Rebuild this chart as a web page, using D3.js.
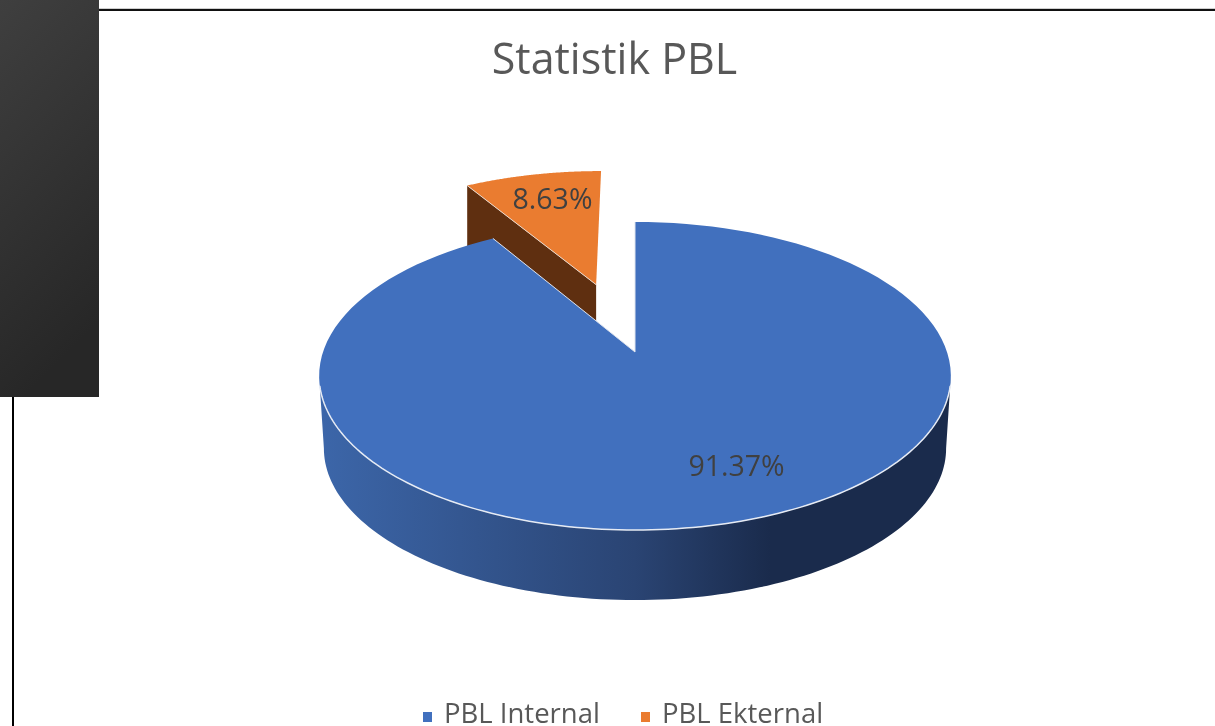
<!DOCTYPE html>
<html>
<head>
<meta charset="utf-8">
<script src="https://cdn.jsdelivr.net/npm/d3@7"></script>
<style>
  html, body { margin: 0; padding: 0; background: #fff; }
  text { font-family: "Open Sans", "Noto Sans", sans-serif; filter: url(#soft); }
</style>
</head>
<body>
<svg id="chart"></svg>
<script>
// data
const titleText = "Statistik PBL";
const categories = ["PBL Internal", "PBL Ekternal"];
const shares = [91.37, 8.63];
const shareLabels = ["91.37%", "8.63%"];
const sliceColors = ["#4170be", "#ea7c30"];
const sideColors = ["#2a4473", "#5f2f10"];

const width = 1215;
const height = 726;

const svg = d3.select("#chart")
  .attr("width", width)
  .attr("height", height)
  .style("display", "block");

const defs = svg.append("defs");

// the reference is an upscaled screenshot, text is a little soft
defs.append("filter")
  .attr("id", "soft")
  .append("feGaussianBlur")
  .attr("stdDeviation", 0.5);

// dark panel top left and the lines of the page behind the chart
const panelGrad = defs.append("linearGradient")
  .attr("id", "panelGrad")
  .attr("x1", 0).attr("y1", 0).attr("x2", 0.25).attr("y2", 1);
panelGrad.append("stop").attr("offset", "0%").attr("stop-color", "#3f3f3f");
panelGrad.append("stop").attr("offset", "100%").attr("stop-color", "#272727");

svg.append("rect").attr("x", 99).attr("y", 8).attr("width", 1116).attr("height", 1).attr("fill", "#cfcfcf");
svg.append("rect").attr("x", 99).attr("y", 9).attr("width", 1116).attr("height", 2).attr("fill", "#111");
svg.append("rect").attr("x", 12).attr("y", 397).attr("width", 2).attr("height", 329).attr("fill", "#000");
svg.append("rect").attr("x", 0).attr("y", 0).attr("width", 99).attr("height", 397).attr("fill", "url(#panelGrad)");

// title
svg.append("text")
  .attr("x", 614.5)
  .attr("y", 74)
  .attr("text-anchor", "middle")
  .attr("font-size", "43px")
  .attr("fill", "#595959")
  .text(titleText);

// pie angles, blue starts at 12 o'clock like the original
const pie = d3.pie().sort(null).value(d => d);
const arcs = pie(shares);

// the tilted disc: unit circle coordinates to screen, with a bit of perspective
const apexX = 635;
const apexY = 352;
const tilt = 0.1558;
const project = (u, v, scale = 1, dy = 0) => {
  const w = 1 + tilt * v;
  return [apexX + 312 * scale * u / w, apexY + dy - 150.3 * scale * v / w];
};
const rimPoint = (a, off = [0, 0], scale = 1, dy = 0) =>
  project(Math.sin(a) + off[0], Math.cos(a) + off[1], scale, dy);
const rimAngles = (a0, a1) => d3.range(0, 121).map(i => a0 + (a1 - a0) * i / 120);
const line = d3.line();

// pulled out slice offset
const explode = 0.5;
const midAngle = (arcs[1].startAngle + arcs[1].endAngle) / 2;
const offset = [explode * Math.sin(midAngle), explode * Math.cos(midAngle)];

const depthDy = 72.7;
const depthScale = 0.985;

// orange slice first, blue disc covers its foot
const cut = arcs[1];
const cutApex = project(offset[0], offset[1]);
const cutApexLow = [cutApex[0], cutApex[1] + 70];
const cutEdge = rimPoint(cut.startAngle, offset);

svg.append("path")
  .attr("d", line([cutEdge, cutApex, cutApexLow, [cutEdge[0], cutEdge[1] + 70]]) + "Z")
  .attr("fill", sideColors[1]);

svg.append("path")
  .attr("d", line([cutApex, ...rimAngles(cut.startAngle, cut.endAngle).map(a => rimPoint(a, offset))]) + "Z")
  .attr("fill", sliceColors[1]);

svg.append("path")
  .attr("d", line([cutEdge, cutApex]))
  .attr("fill", "none")
  .attr("stroke", "#e8d8cc")
  .attr("stroke-width", 1);

// blue side wall, shading runs left to right
const wallShade = d3.scaleLinear()
  .domain([320, 635, 770, 950])
  .range(["#3c66a9", sideColors[0], "#1a2b4c", "#1a2b4c"]);
const wallGrad = defs.append("linearGradient")
  .attr("id", "wallGrad")
  .attr("gradientUnits", "userSpaceOnUse")
  .attr("x1", 320).attr("y1", 0).attr("x2", 950).attr("y2", 0);
wallShade.domain().forEach(x => {
  wallGrad.append("stop")
    .attr("offset", (x - 320) / 630)
    .attr("stop-color", wallShade(x));
});

// wall runs between the two widest points of the disc
const widest = Math.acos(-tilt);
const wallRange = rimAngles(widest, Math.PI * 2 - widest);
svg.append("path")
  .attr("d", line([
    ...wallRange.map(a => rimPoint(a)),
    ...wallRange.slice().reverse().map(a => rimPoint(a, [0, 0], depthScale, depthDy))
  ]) + "Z")
  .attr("fill", "url(#wallGrad)");

// blue top
const main = arcs[0];
svg.append("path")
  .attr("d", line([[apexX, apexY], ...rimAngles(main.startAngle, main.endAngle).map(a => rimPoint(a))]) + "Z")
  .attr("fill", sliceColors[0]);

// light edge on the two cut sides of the blue slice
svg.append("path")
  .attr("d", line([rimPoint(main.endAngle), [apexX, apexY], rimPoint(main.startAngle)]))
  .attr("fill", "none")
  .attr("stroke", "#dfe4ee")
  .attr("stroke-width", 1);

// thin light rim along the front edge
svg.append("path")
  .attr("d", line(rimAngles(Math.PI * 0.57, Math.PI * 1.43).map(a => rimPoint(a))))
  .attr("fill", "none")
  .attr("stroke", "#e6ebf4")
  .attr("stroke-width", 1.5);

// data labels
svg.selectAll(".share")
  .data(shareLabels)
  .join("text")
  .attr("class", "share")
  .attr("x", (d, i) => [736.5, 552.5][i])
  .attr("y", (d, i) => [476, 209][i])
  .attr("text-anchor", "middle")
  .attr("font-size", "28.5px")
  .attr("fill", "#404040")
  .text(d => d);

// legend
const legendX = [423, 641];
const legend = svg.selectAll(".legend")
  .data(categories)
  .join("g")
  .attr("class", "legend")
  .attr("transform", (d, i) => `translate(${legendX[i]}, 712)`);

legend.append("rect")
  .attr("width", 9)
  .attr("height", 10)
  .attr("fill", (d, i) => sliceColors[i]);

legend.append("text")
  .attr("x", 21)
  .attr("y", 11)
  .attr("font-size", "27.5px")
  .attr("fill", "#595959")
  .text(d => d);
</script>
</body>
</html>
